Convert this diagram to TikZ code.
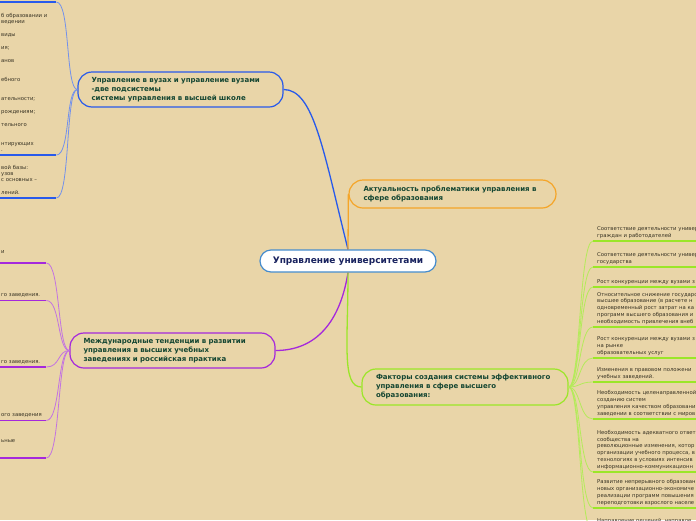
\documentclass[tikz,border=0pt]{standalone}
\usepackage{fontspec}
\setmainfont{DejaVu Sans}
\usetikzlibrary{positioning}

\definecolor{paper}{RGB}{233,213,168}
\definecolor{rootedge}{RGB}{70,140,205}
\definecolor{rootink}{RGB}{25,35,95}
\definecolor{topicink}{RGB}{20,70,50}
\definecolor{leafink}{RGB}{55,50,35}
\definecolor{vuzblue}{RGB}{40,90,235}
\definecolor{vuzthin}{RGB}{115,145,235}
\definecolor{aktorange}{RGB}{245,165,40}
\definecolor{intlviolet}{RGB}{165,40,220}
\definecolor{intlthin}{RGB}{195,115,225}
\definecolor{facgreen}{RGB}{155,230,40}
\definecolor{facthin}{RGB}{180,235,90}

\newlength{\lfgap}
\setlength{\lfgap}{6.4pt}

\tikzset{
  rootbox/.style={draw=rootedge,line width=1.2pt,fill=white,rounded corners=11pt,
    minimum width=176pt,minimum height=22pt,text=rootink,
    font=\fontsize{9}{11}\selectfont\bfseries},
  topicbox/.style={draw=#1,line width=1.2pt,rounded corners=14pt,align=left,
    text width=178pt,inner xsep=13.5pt,minimum height=35pt,text=topicink,
    font=\fontsize{7}{9}\selectfont\bfseries},
  leftleaf/.style={anchor=south west,text width=#1,inner xsep=1pt,inner ysep=3pt,
    align=left,text=leafink,font=\fontsize{5.3}{6.4}\selectfont},
  rightleaf/.style={anchor=south west,text width=120pt,inner xsep=4pt,inner ysep=2.5pt,
    align=left,text=leafink,font=\fontsize{5.3}{6.8}\selectfont},
  branch/.style={draw=#1,line width=1.3pt},
  twig/.style={draw=#1,line width=0.8pt},
  underline/.style={draw=#1,line width=1.8pt}
}

\begin{document}
\begin{tikzpicture}[x=1pt,y=-1pt]
\fill[paper] (0,0) rectangle (696,520);
\useasboundingbox (0,0) rectangle (696,520);
\clip (0,0) rectangle (696,520);

\node[rootbox] (uni) at (348,261) {Управление университетами};

% main topics
\node[topicbox=vuzblue] (vuzy) at (180.5,89.5) {Управление в вузах и управление вузами\\-две подсистемы\\системы управления в высшей школе};
\node[topicbox=aktorange,inner xsep=14.5pt,minimum height=28pt] (aktual) at (452.5,194) {Актуальность проблематики управления в\\сфере образования};
\node[topicbox=intlviolet] (intl) at (172.5,350.5) {Международные тенденции в развитии\\управления в высших учебных\\заведениях и российская практика};
\node[topicbox=facgreen,inner xsep=14pt,minimum height=36pt] (faktory) at (465,387) {Факторы создания системы эффективного\\управления в сфере высшего\\образования:};

\draw[branch=vuzblue] (uni.north) .. controls +(-25,-100) and +(30,0) .. (vuzy.east);
\draw[branch=aktorange] (uni.north) -- (aktual.west);
\draw[branch=intlviolet] (uni.south) .. controls +(-8,50) and +(40,0) .. (intl.east);
\draw[branch=facgreen] (uni.south) .. controls +(0,70) and +(-20,0) .. (faktory.west);

% leaves of the first topic
\node[leftleaf=54pt] (vuz1) at (0,2) {};
\node[leftleaf=54pt] (vuz2) at (0,155) {б образовании и\\ведении\\[\lfgap]виды\\[\lfgap]ия;\\[\lfgap]анов\\[2\lfgap]ебного\\[2\lfgap]ательности;\\[\lfgap]рождениям;\\[\lfgap]тельного\\[2\lfgap]нтирующих\\.};
\node[leftleaf=54pt] (vuz3) at (0,198) {вой базы:\\узов\\с основных –\\[\lfgap]лений.};

% leaves of the international topic
\node[leftleaf=44pt] (intl1) at (0,263) {и\\\mbox{}};
\node[leftleaf=44pt] (intl2) at (0,300.5) {го заведения.};
\node[leftleaf=44pt] (intl3) at (0,367) {го заведения.};
\node[leftleaf=44pt] (intl4) at (0,420.5) {ого заведения};
\node[leftleaf=44pt] (intl5) at (0,458) {ьные\\[\lfgap]\mbox{}};

% leaves of the factors
\node[rightleaf] (fak1) at (593,241) {Соответствие деятельности универ\\граждан и работодателей};
\node[rightleaf] (fak2) at (593,267) {Соответствие деятельности универ\\государства};
\node[rightleaf] (fak3) at (593,287) {Рост конкуренции между вузами з};
\node[rightleaf] (fak4) at (593,327) {Относительное снижение государс\\высшее образование (в расчете н\\одновременный рост затрат на ка\\программ высшего образования и\\необходимость привлечения внеб};
\node[rightleaf] (fak5) at (593,358) {Рост конкуренции между вузами з\\на рынке\\образовательных услуг};
\node[rightleaf] (fak6) at (593,382) {Изменения в правовом положени\\учебных заведений.};
\node[rightleaf] (fak7) at (593,419) {Необходимость целенаправленной\\созданию систем\\управления качеством образовани\\заведении в соответствии с миров};
\node[rightleaf] (fak8) at (593,472) {Необходимость адекватного ответ\\сообщества на\\революционные изменения, котор\\организации учебного процесса, в\\технологиях в условиях интенсив\\информационно-коммуникационн};
\node[rightleaf] (fak9) at (593,508) {Развитие непрерывного образован\\новых организационно-экономиче\\реализации программ повышения\\переподготовки взрослого населе};
\node[rightleaf] (fak10) at (593,532) {Направление решений, направле\\\mbox{}};

\foreach \n in {vuz1,vuz2,vuz3} {
  \draw[twig=vuzthin] (vuzy.west) .. controls +(-12,0) and +(14,0) .. (\n.south east);
  \draw[underline=vuzblue] (\n.south west) -- (\n.south east);
}
\foreach \n in {intl1,intl2,intl3,intl4,intl5} {
  \draw[twig=intlthin] (intl.west) .. controls +(-12,0) and +(14,0) .. (\n.south east);
  \draw[underline=intlviolet] (\n.south west) -- (\n.south east);
}
\foreach \n in {fak1,fak2,fak3,fak4,fak5,fak6,fak7,fak8,fak9,fak10} {
  \draw[twig=facthin] (faktory.east) .. controls +(12,0) and +(-14,0) .. (\n.south west);
  \draw[underline=facgreen] (\n.south west) -- (\n.south east);
}
\end{tikzpicture}
\end{document}
